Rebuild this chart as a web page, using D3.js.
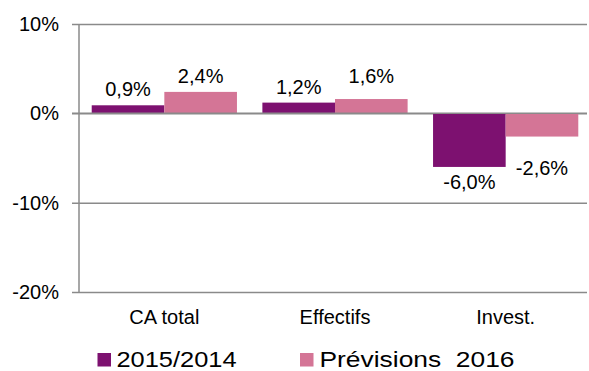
<!DOCTYPE html>
<html>
<head>
<meta charset="utf-8">
<script src="https://cdn.jsdelivr.net/npm/d3@7"></script>
<style>
  html, body { margin: 0; padding: 0; background: #fff; }
  svg { display: block; font-family: "Liberation Sans", Arial, sans-serif; }
</style>
</head>
<body>
<svg id="chart" width="589" height="371"></svg>
<script>
// Categories, series and axis ticks
const categories = ["CA total", "Effectifs", "Invest."];
const seriesNames = ["2015/2014", "Prévisions  2016"];
const values2015 = [0.9, 1.2, -6.0];
const valuesPrev2016 = [2.4, 1.6, -2.6];
const yTicks = [10, 0, -10, -20];

const colors = ["#7D1170", "#D47596"];
const gridColor = "#8A8A8A";

const svg = d3.select("#chart");

const x = d3.scaleBand()
  .domain(categories)
  .range([79, 591])
  .paddingInner(0.149)
  .paddingOuter(0.0745);

const xSeries = d3.scaleBand()
  .domain(seriesNames)
  .range([0, x.bandwidth()]);

const y = d3.scaleLinear().domain([-20, 10]).range([292, 24]);

// French decimal comma, plain hyphen for negatives
const fmt = v => (v < 0 ? "-" : "") + d3.format(".1f")(Math.abs(v)).replace(".", ",") + "%";

// Horizontal gridlines with small outer ticks, and value labels
const yAxis = d3.axisLeft(y)
  .tickValues(yTicks)
  .tickSize(-(587 - 79))
  .tickSizeOuter(0)
  .tickPadding(13)
  .tickFormat(d => d + "%");

const gy = svg.append("g")
  .attr("transform", "translate(79,0)")
  .call(yAxis);
gy.select(".domain").remove();
gy.selectAll(".tick line")
  .attr("x1", -7)
  .attr("stroke", gridColor)
  .attr("stroke-width", 1.5);
gy.selectAll(".tick text")
  .attr("x", -20)
  .attr("fill", "#000")
  .attr("font-size", 20)
  .attr("font-family", "Liberation Sans, Arial, sans-serif");

// Vertical axis line
svg.append("line")
  .attr("x1", 79).attr("x2", 79)
  .attr("y1", y(10)).attr("y2", y(-20))
  .attr("stroke", gridColor)
  .attr("stroke-width", 1.5);

// Bars
const rows = categories.map((c, i) => ({
  cat: c,
  vals: [
    { s: seriesNames[0], v: values2015[i], k: 0, i },
    { s: seriesNames[1], v: valuesPrev2016[i], k: 1, i }
  ]
}));

const groups = svg.append("g").selectAll("g")
  .data(rows)
  .join("g")
  .attr("transform", d => `translate(${x(d.cat)},0)`);

groups.selectAll("rect")
  .data(d => d.vals)
  .join("rect")
  .attr("x", d => xSeries(d.s))
  .attr("width", xSeries.bandwidth())
  .attr("y", d => Math.min(y(d.v), y(0)))
  .attr("height", d => Math.abs(y(d.v) - y(0)))
  .attr("fill", d => colors[d.k]);

// Redraw the zero line over the bars
svg.append("line")
  .attr("x1", 72).attr("x2", 587)
  .attr("y1", y(0)).attr("y2", y(0))
  .attr("stroke", gridColor)
  .attr("stroke-width", 1.5);

// Value labels; a few are lifted or dropped to keep them clear of neighbours
const extraLift = { "1-1": 7, "2-1": 16 };
groups.selectAll("text.val")
  .data(d => d.vals)
  .join("text")
  .attr("class", "val")
  .attr("x", d => xSeries(d.s) + xSeries.bandwidth() / 2)
  .attr("y", d => {
    const nudge = extraLift[d.i + "-" + d.k] || 0;
    return d.v >= 0 ? y(d.v) - 9 - nudge : y(d.v) + 22 + nudge;
  })
  .attr("text-anchor", "middle")
  .attr("font-size", 20)
  .attr("fill", "#000")
  .text(d => fmt(d.v));

// Category labels
svg.append("g").selectAll("text")
  .data(categories)
  .join("text")
  .attr("x", d => x(d) + x.bandwidth() / 2)
  .attr("y", 324)
  .attr("text-anchor", "middle")
  .attr("font-size", 20)
  .attr("fill", "#000")
  .text(d => d);

// Legend
const legendItems = [
  { name: seriesNames[0], color: colors[0], sx: 97.5, tx: 116.5, w: 120 },
  { name: seriesNames[1], color: colors[1], sx: 300, tx: 319.5, w: 195 }
];
const lg = svg.append("g").selectAll("g")
  .data(legendItems)
  .join("g");
lg.append("rect")
  .attr("x", d => d.sx)
  .attr("y", 353)
  .attr("width", 13.5)
  .attr("height", 13.5)
  .attr("fill", d => d.color);
lg.append("text")
  .attr("x", d => d.tx)
  .attr("y", 367)
  .attr("font-size", 22)
  .attr("fill", "#000")
  .attr("textLength", d => d.w)
  .attr("lengthAdjust", "spacingAndGlyphs")
  .style("white-space", "pre")
  .text(d => d.name);
</script>
</body>
</html>
